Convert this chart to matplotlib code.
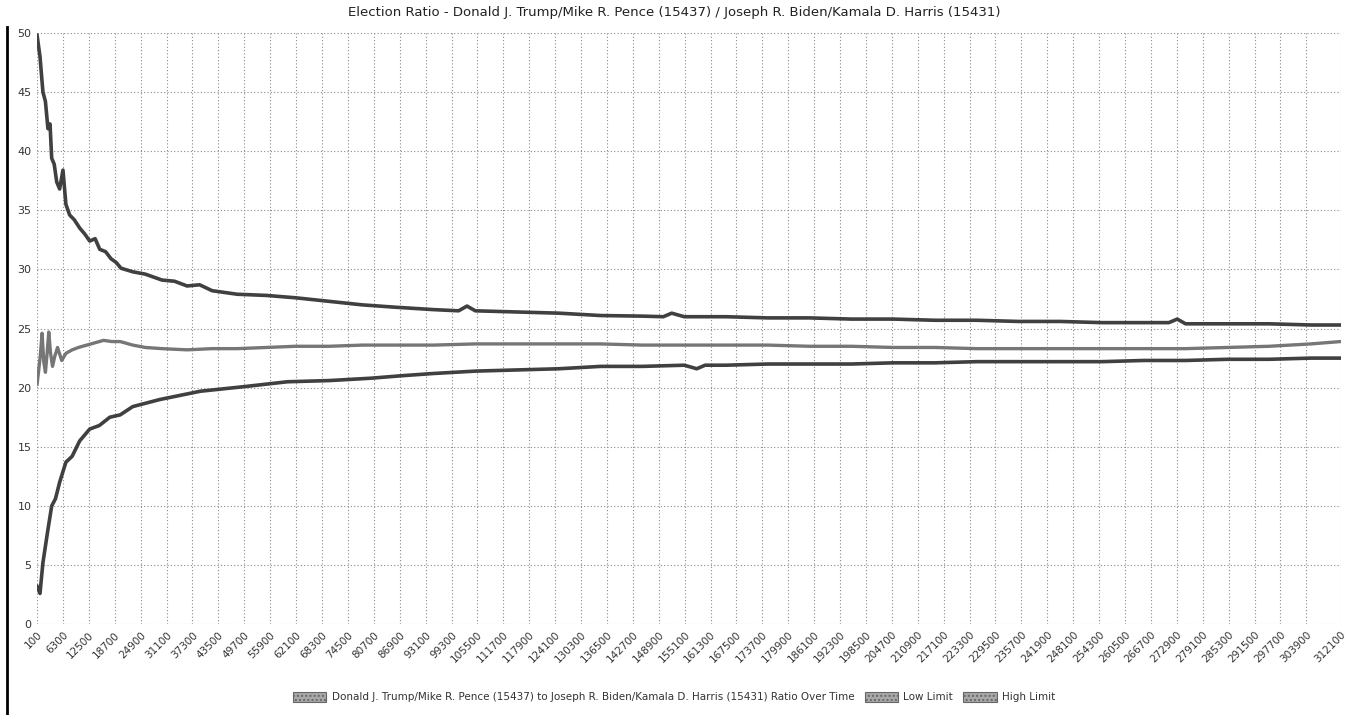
import numpy as np
import matplotlib.pyplot as plt
from matplotlib.patches import Patch
from matplotlib.lines import Line2D

# high limit (top curve)
high_x = [100, 800, 1500, 2100, 2700, 3200, 3600, 4200, 4800, 5500, 6300, 7000, 7900, 9000,
          10300, 11500, 12700, 14000, 15100, 16500, 17800, 19000, 20200, 23000, 26000, 30000,
          33000, 36000, 39000, 42000, 48000, 55000, 62000, 70000, 78000, 86000, 95000, 101000,
          103000, 105000, 115000, 125000, 135000, 145000, 150000, 152000, 155000, 165000,
          175000, 185000, 195000, 205000, 215000, 225000, 235000, 245000, 255000, 265000,
          271000, 273000, 275000, 285000, 295000, 305000, 312100]
high_y = [49.8, 48.0, 45.0, 44.2, 41.9, 42.3, 39.4, 38.9, 37.4, 36.8, 38.4, 35.5, 34.6, 34.2,
          33.5, 33.0, 32.4, 32.6, 31.7, 31.5, 30.9, 30.6, 30.1, 29.8, 29.6, 29.1,
          29.0, 28.6, 28.7, 28.2, 27.9, 27.8, 27.6, 27.3, 27.0, 26.8, 26.6, 26.5,
          26.9, 26.5, 26.4, 26.3, 26.1, 26.05, 26.0, 26.3, 26.0, 26.0,
          25.9, 25.9, 25.8, 25.8, 25.7, 25.7, 25.6, 25.6, 25.5, 25.5,
          25.5, 25.8, 25.4, 25.4, 25.4, 25.3, 25.3]

# ratio (middle curve)
ratio_x = [100, 500, 900, 1300, 1700, 2100, 2500, 2900, 3300, 3800, 4300, 5000, 6000, 7000,
           8500, 10000, 12000, 14000, 16000, 18000, 20000, 23000, 26000, 30000, 36000, 42000,
           48000, 55000, 62000, 70000, 78000, 86000, 95000, 105000, 115000, 125000, 135000,
           145000, 155000, 165000, 175000, 185000, 195000, 205000, 215000, 225000, 235000,
           245000, 255000, 265000, 275000, 285000, 295000, 305000, 312100]
ratio_y = [20.3, 21.5, 22.8, 24.6, 22.2, 21.3, 22.9, 24.7, 23.0, 21.8, 22.6, 23.4, 22.3, 22.9,
           23.2, 23.4, 23.6, 23.8, 24.0, 23.9, 23.9, 23.6, 23.4, 23.3, 23.2, 23.3,
           23.3, 23.4, 23.5, 23.5, 23.6, 23.6, 23.6, 23.7, 23.7, 23.7, 23.7,
           23.6, 23.6, 23.6, 23.6, 23.5, 23.5, 23.4, 23.4, 23.3, 23.3,
           23.3, 23.3, 23.3, 23.3, 23.4, 23.5, 23.7, 23.9]

# low limit (bottom curve)
low_x = [100, 800, 1500, 2100, 2700, 3600, 4500, 5500, 7000, 8500, 10300, 12700, 15000,
         17500, 20000, 23000, 29500, 39200, 50000, 60000, 70000, 80000, 87000, 95000, 105000,
         115000, 125000, 135000, 145000, 155000, 158000, 160000, 165000, 175000, 185000,
         195000, 205000, 215000, 225000, 235000, 245000, 255000, 265000, 275000, 285000,
         295000, 305000, 312100]
low_y = [3.2, 2.6, 5.2, 6.6, 8.0, 10.0, 10.6, 12.0, 13.7, 14.2, 15.5, 16.5, 16.8,
         17.5, 17.7, 18.4, 19.0, 19.7, 20.1, 20.5, 20.6, 20.8, 21.0, 21.2, 21.4,
         21.5, 21.6, 21.8, 21.8, 21.9, 21.6, 21.9, 21.9, 22.0, 22.0,
         22.0, 22.1, 22.1, 22.2, 22.2, 22.2, 22.2, 22.3, 22.3, 22.4,
         22.4, 22.5, 22.5]

tick_vals = list(range(100, 303901, 6200)) + [312100]
title = "Election Ratio - Donald J. Trump/Mike R. Pence (15437) / Joseph R. Biden/Kamala D. Harris (15431)"
legend_labels = ["Donald J. Trump/Mike R. Pence (15437) to Joseph R. Biden/Kamala D. Harris (15431) Ratio Over Time",
                 "Low Limit", "High Limit"]

fig = plt.figure(figsize=(13.48, 7.15), dpi=100)
ax = fig.add_axes([0.0275, 0.127, 0.967, 0.827])

ax.plot(ratio_x, ratio_y, color="#767676", lw=2.4)
ax.plot(low_x, low_y, color="#404040", lw=2.6)
ax.plot(high_x, high_y, color="#404040", lw=2.6)

ax.set_xlim(100, 312100)
ax.set_ylim(0, 50)
ax.set_yticks(range(0, 51, 5))
ax.set_xticks(tick_vals)
ax.set_xticklabels([str(v) for v in tick_vals], rotation=45, ha="right",
                   rotation_mode="anchor", fontsize=7.5, color="#333333")
ax.tick_params(axis="y", labelsize=8, colors="#333333", length=0, pad=4)
ax.tick_params(axis="x", length=0, pad=4)
ax.grid(True, color="#8a8a8a", linestyle=(0, (1, 2)), lw=0.8)
for s in ax.spines.values():
    s.set_visible(False)

fig.text(0.5, 0.982, title, ha="center", va="center", fontsize=9.5, color="#222222")

handles = [Patch(facecolor="#a8a8a8", edgecolor="#666666", hatch="....", lw=0.8) for _ in range(3)]
fig.legend(handles, legend_labels, loc="center", bbox_to_anchor=(0.5, 0.025), ncol=3,
           frameon=False, fontsize=7.5, handlelength=3.2, handleheight=1.1,
           columnspacing=1.0, handletextpad=0.5, labelcolor="#333333")

fig.add_artist(Line2D([7 / 1348, 7 / 1348], [0, 1 - 27 / 715], transform=fig.transFigure,
                      color="black", lw=2))

fig.savefig("out.png", dpi=100)
